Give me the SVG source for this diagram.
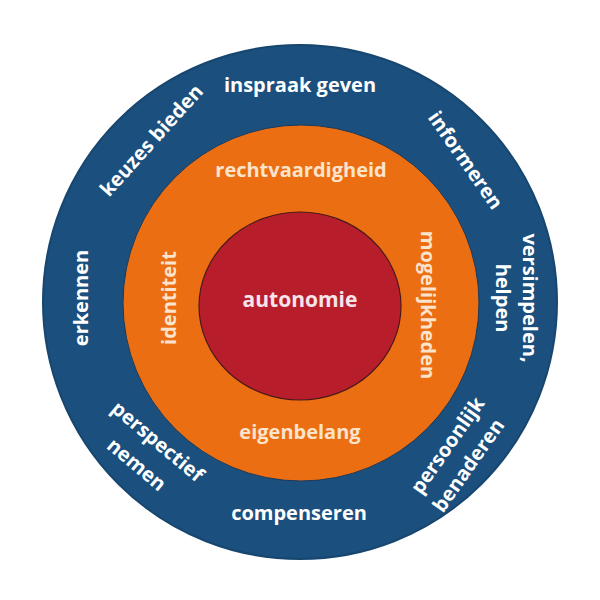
<svg xmlns="http://www.w3.org/2000/svg" width="600" height="600" viewBox="0 0 600 600">
<style>
text{font-family:"Open Sans","Liberation Sans",sans-serif;font-weight:bold;font-size:20px;text-anchor:middle;dominant-baseline:central}
.o{fill:#ffffff}
.m{fill:#fbe3cc}
.c{fill:#f6e4ea;font-size:21px}
</style>
<rect width="600" height="600" fill="#ffffff"/>
<g id="outer">
<circle cx="300" cy="302" r="257" fill="#1a4f7e" stroke="#17466f" stroke-width="2"/>
<text class="o" x="300" y="84">inspraak geven</text>
<text class="o" transform="translate(151,140) rotate(-48)">keuzes bieden</text>
<text class="o" transform="translate(466,160) rotate(55)">informeren</text>
<text class="o" transform="translate(80,298) rotate(-90)">erkennen</text>
<text class="o" transform="translate(530,298) rotate(90)">versimpelen,</text>
<text class="o" transform="translate(503,298) rotate(90)">helpen</text>
<text class="o" transform="translate(158,441) rotate(40)">perspectief</text>
<text class="o" transform="translate(137,464) rotate(40)">nemen</text>
<text class="o" transform="translate(447,445) rotate(-55)">persoonlijk</text>
<text class="o" transform="translate(468,465) rotate(-55)">benaderen</text>
<text class="o" x="299" y="512">compenseren</text>
</g>
<g id="middle">
<circle cx="301" cy="303" r="178" fill="#ec6e12" stroke="#1a3a5c" stroke-width="1"/>
<text class="m" x="301" y="169">rechtvaardigheid</text>
<text class="m" transform="translate(168,298) rotate(-90)">identiteit</text>
<text class="m" transform="translate(428,305) rotate(90)">mogelijkheden</text>
<text class="m" x="300" y="431">eigenbelang</text>
</g>
<g id="inner">
<ellipse cx="300" cy="306" rx="101" ry="94" fill="#b81d2b" stroke="#4a1a1a" stroke-width="1.2"/>
<text class="c" x="300" y="299">autonomie</text>
</g>
</svg>
